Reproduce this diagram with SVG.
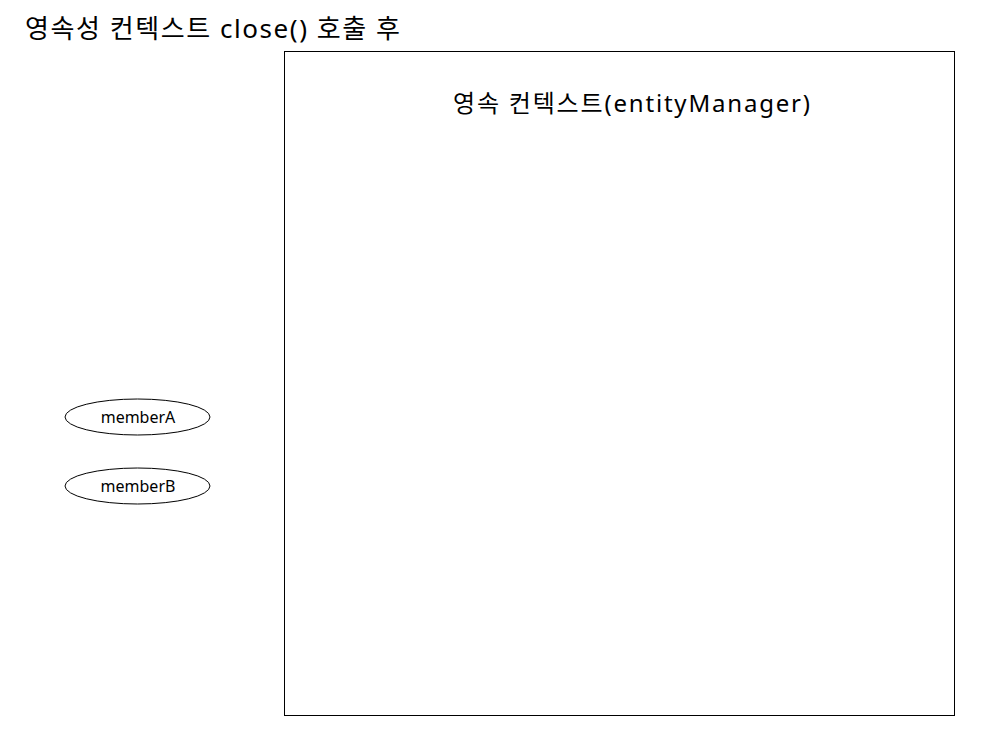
<svg xmlns="http://www.w3.org/2000/svg" width="987" height="736" viewBox="0 0 987 736">
<style>
text{font-family:"Noto Sans","Noto Sans CJK KR",sans-serif;fill:#000}
.shape{fill:#fff;stroke:#000;stroke-width:1}
.t{font-size:16px;text-anchor:middle}
</style>
<rect width="987" height="736" fill="#fff"/>
<text id="title" x="25" y="38" style="font-size:26px" textLength="375" lengthAdjust="spacing">영속성 컨텍스트 close() 호출 후</text>
<g id="context">
<rect class="shape" x="284.5" y="51.5" width="670" height="664"/>
<text x="453" y="112" style="font-size:24px" textLength="357" lengthAdjust="spacing">영속 컨텍스트(entityManager)</text>
</g>
<g id="memberA">
<ellipse class="shape" cx="137.5" cy="417" rx="72.5" ry="18"/>
<text class="t" x="138" y="422.5">memberA</text>
</g>
<g id="memberB">
<ellipse class="shape" cx="137.5" cy="486" rx="72.5" ry="18"/>
<text class="t" x="138" y="491.5">memberB</text>
</g>
<g id="connectors"></g>
</svg>
